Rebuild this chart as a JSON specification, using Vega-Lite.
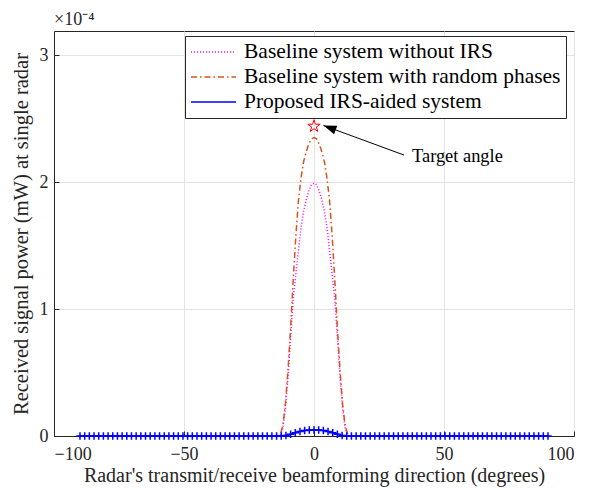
{
  "$schema": "https://vega.github.io/schema/vega-lite/v6.json",
  "width": 520,
  "height": 405,
  "autosize": {"type": "none"},
  "padding": {"left": 54, "top": 31, "right": 23, "bottom": 53},
  "background": "white",
  "config": {
    "font": "Liberation Serif",
    "view": {"stroke": "#262626", "strokeWidth": 1},
    "axis": {
      "labelFont": "Liberation Serif",
      "titleFont": "Liberation Serif",
      "labelColor": "#262626",
      "titleColor": "#262626",
      "domainColor": "#262626",
      "tickColor": "#262626",
      "gridColor": "#e3e3e3",
      "labelFontSize": 18,
      "titleFontSize": 20.5,
      "titleFontWeight": "normal",
      "tickSize": -5
    }
  },
  "title": {
    "text": "×10⁻⁴",
    "anchor": "start",
    "frame": "group",
    "fontSize": 18,
    "fontWeight": "normal",
    "font": "Liberation Serif",
    "color": "#262626",
    "offset": 2
  },
  "data": {
    "values": [
      {"series": "Baseline system without IRS", "angle": -90, "power": 0},
      {"series": "Baseline system without IRS", "angle": -14, "power": 0},
      {"series": "Baseline system without IRS", "angle": -13, "power": 0},
      {"series": "Baseline system without IRS", "angle": -12, "power": 0.000006},
      {"series": "Baseline system without IRS", "angle": -11, "power": 0.000022},
      {"series": "Baseline system without IRS", "angle": -10, "power": 0.000047},
      {"series": "Baseline system without IRS", "angle": -9, "power": 0.000078},
      {"series": "Baseline system without IRS", "angle": -8, "power": 0.000108},
      {"series": "Baseline system without IRS", "angle": -7, "power": 0.000127},
      {"series": "Baseline system without IRS", "angle": -6, "power": 0.000146},
      {"series": "Baseline system without IRS", "angle": -5, "power": 0.000164},
      {"series": "Baseline system without IRS", "angle": -4, "power": 0.000177},
      {"series": "Baseline system without IRS", "angle": -3, "power": 0.000186},
      {"series": "Baseline system without IRS", "angle": -2, "power": 0.000193},
      {"series": "Baseline system without IRS", "angle": -1, "power": 0.000198},
      {"series": "Baseline system without IRS", "angle": 0, "power": 0.000199},
      {"series": "Baseline system without IRS", "angle": 1, "power": 0.000198},
      {"series": "Baseline system without IRS", "angle": 2, "power": 0.000193},
      {"series": "Baseline system without IRS", "angle": 3, "power": 0.000186},
      {"series": "Baseline system without IRS", "angle": 4, "power": 0.000177},
      {"series": "Baseline system without IRS", "angle": 5, "power": 0.000164},
      {"series": "Baseline system without IRS", "angle": 6, "power": 0.000146},
      {"series": "Baseline system without IRS", "angle": 7, "power": 0.000127},
      {"series": "Baseline system without IRS", "angle": 8, "power": 0.000108},
      {"series": "Baseline system without IRS", "angle": 9, "power": 0.000078},
      {"series": "Baseline system without IRS", "angle": 10, "power": 0.000047},
      {"series": "Baseline system without IRS", "angle": 11, "power": 0.000022},
      {"series": "Baseline system without IRS", "angle": 12, "power": 0.000006},
      {"series": "Baseline system without IRS", "angle": 13, "power": 0},
      {"series": "Baseline system without IRS", "angle": 14, "power": 0},
      {"series": "Baseline system without IRS", "angle": 90, "power": 0},
      {"series": "Baseline system with random phases", "angle": -90, "power": 0},
      {"series": "Baseline system with random phases", "angle": -14, "power": 0},
      {"series": "Baseline system with random phases", "angle": -13, "power": 0.000001},
      {"series": "Baseline system with random phases", "angle": -12, "power": 0.000008},
      {"series": "Baseline system with random phases", "angle": -11, "power": 0.000025},
      {"series": "Baseline system with random phases", "angle": -10, "power": 0.000052},
      {"series": "Baseline system with random phases", "angle": -9, "power": 0.000085},
      {"series": "Baseline system with random phases", "angle": -8, "power": 0.000123},
      {"series": "Baseline system with random phases", "angle": -7, "power": 0.000157},
      {"series": "Baseline system with random phases", "angle": -6, "power": 0.000185},
      {"series": "Baseline system with random phases", "angle": -5, "power": 0.000203},
      {"series": "Baseline system with random phases", "angle": -4, "power": 0.000216},
      {"series": "Baseline system with random phases", "angle": -3, "power": 0.000224},
      {"series": "Baseline system with random phases", "angle": -2, "power": 0.00023},
      {"series": "Baseline system with random phases", "angle": -1, "power": 0.000234},
      {"series": "Baseline system with random phases", "angle": 0, "power": 0.000235},
      {"series": "Baseline system with random phases", "angle": 1, "power": 0.000234},
      {"series": "Baseline system with random phases", "angle": 2, "power": 0.00023},
      {"series": "Baseline system with random phases", "angle": 3, "power": 0.000224},
      {"series": "Baseline system with random phases", "angle": 4, "power": 0.000216},
      {"series": "Baseline system with random phases", "angle": 5, "power": 0.000203},
      {"series": "Baseline system with random phases", "angle": 6, "power": 0.000185},
      {"series": "Baseline system with random phases", "angle": 7, "power": 0.000157},
      {"series": "Baseline system with random phases", "angle": 8, "power": 0.000123},
      {"series": "Baseline system with random phases", "angle": 9, "power": 0.000085},
      {"series": "Baseline system with random phases", "angle": 10, "power": 0.000052},
      {"series": "Baseline system with random phases", "angle": 11, "power": 0.000025},
      {"series": "Baseline system with random phases", "angle": 12, "power": 0.000008},
      {"series": "Baseline system with random phases", "angle": 13, "power": 0.000001},
      {"series": "Baseline system with random phases", "angle": 14, "power": 0},
      {"series": "Baseline system with random phases", "angle": 90, "power": 0},
      {"series": "Proposed IRS-aided system", "angle": -90, "power": 0},
      {"series": "Proposed IRS-aided system", "angle": -88.2, "power": 0},
      {"series": "Proposed IRS-aided system", "angle": -86.4, "power": 0},
      {"series": "Proposed IRS-aided system", "angle": -84.6, "power": 0},
      {"series": "Proposed IRS-aided system", "angle": -82.8, "power": 0},
      {"series": "Proposed IRS-aided system", "angle": -81, "power": 0},
      {"series": "Proposed IRS-aided system", "angle": -79.2, "power": 0},
      {"series": "Proposed IRS-aided system", "angle": -77.4, "power": 0},
      {"series": "Proposed IRS-aided system", "angle": -75.6, "power": 0},
      {"series": "Proposed IRS-aided system", "angle": -73.8, "power": 0},
      {"series": "Proposed IRS-aided system", "angle": -72, "power": 0},
      {"series": "Proposed IRS-aided system", "angle": -70.2, "power": 0},
      {"series": "Proposed IRS-aided system", "angle": -68.4, "power": 0},
      {"series": "Proposed IRS-aided system", "angle": -66.6, "power": 0},
      {"series": "Proposed IRS-aided system", "angle": -64.8, "power": 0},
      {"series": "Proposed IRS-aided system", "angle": -63, "power": 0},
      {"series": "Proposed IRS-aided system", "angle": -61.2, "power": 0},
      {"series": "Proposed IRS-aided system", "angle": -59.4, "power": 0},
      {"series": "Proposed IRS-aided system", "angle": -57.6, "power": 0},
      {"series": "Proposed IRS-aided system", "angle": -55.8, "power": 0},
      {"series": "Proposed IRS-aided system", "angle": -54, "power": 0},
      {"series": "Proposed IRS-aided system", "angle": -52.2, "power": 0},
      {"series": "Proposed IRS-aided system", "angle": -50.4, "power": 0},
      {"series": "Proposed IRS-aided system", "angle": -48.6, "power": 0},
      {"series": "Proposed IRS-aided system", "angle": -46.8, "power": 0},
      {"series": "Proposed IRS-aided system", "angle": -45, "power": 0},
      {"series": "Proposed IRS-aided system", "angle": -43.2, "power": 0},
      {"series": "Proposed IRS-aided system", "angle": -41.4, "power": 0},
      {"series": "Proposed IRS-aided system", "angle": -39.6, "power": 0},
      {"series": "Proposed IRS-aided system", "angle": -37.8, "power": 0},
      {"series": "Proposed IRS-aided system", "angle": -36, "power": 0},
      {"series": "Proposed IRS-aided system", "angle": -34.2, "power": 0},
      {"series": "Proposed IRS-aided system", "angle": -32.4, "power": 0},
      {"series": "Proposed IRS-aided system", "angle": -30.6, "power": 0},
      {"series": "Proposed IRS-aided system", "angle": -28.8, "power": 0},
      {"series": "Proposed IRS-aided system", "angle": -27, "power": 0},
      {"series": "Proposed IRS-aided system", "angle": -25.2, "power": 0},
      {"series": "Proposed IRS-aided system", "angle": -23.4, "power": 0},
      {"series": "Proposed IRS-aided system", "angle": -21.6, "power": 0},
      {"series": "Proposed IRS-aided system", "angle": -19.8, "power": 0},
      {"series": "Proposed IRS-aided system", "angle": -18, "power": 0},
      {"series": "Proposed IRS-aided system", "angle": -16.2, "power": 0},
      {"series": "Proposed IRS-aided system", "angle": -14.4, "power": 0},
      {"series": "Proposed IRS-aided system", "angle": -12.6, "power": 0},
      {"series": "Proposed IRS-aided system", "angle": -10.8, "power": 0.0000004},
      {"series": "Proposed IRS-aided system", "angle": -9, "power": 0.0000014},
      {"series": "Proposed IRS-aided system", "angle": -7.2, "power": 0.0000026},
      {"series": "Proposed IRS-aided system", "angle": -5.4, "power": 0.0000036},
      {"series": "Proposed IRS-aided system", "angle": -3.6, "power": 0.0000043},
      {"series": "Proposed IRS-aided system", "angle": -1.8, "power": 0.0000047},
      {"series": "Proposed IRS-aided system", "angle": 0, "power": 0.0000048},
      {"series": "Proposed IRS-aided system", "angle": 1.8, "power": 0.0000047},
      {"series": "Proposed IRS-aided system", "angle": 3.6, "power": 0.0000043},
      {"series": "Proposed IRS-aided system", "angle": 5.4, "power": 0.0000036},
      {"series": "Proposed IRS-aided system", "angle": 7.2, "power": 0.0000026},
      {"series": "Proposed IRS-aided system", "angle": 9, "power": 0.0000014},
      {"series": "Proposed IRS-aided system", "angle": 10.8, "power": 0.0000004},
      {"series": "Proposed IRS-aided system", "angle": 12.6, "power": 0},
      {"series": "Proposed IRS-aided system", "angle": 14.4, "power": 0},
      {"series": "Proposed IRS-aided system", "angle": 16.2, "power": 0},
      {"series": "Proposed IRS-aided system", "angle": 18, "power": 0},
      {"series": "Proposed IRS-aided system", "angle": 19.8, "power": 0},
      {"series": "Proposed IRS-aided system", "angle": 21.6, "power": 0},
      {"series": "Proposed IRS-aided system", "angle": 23.4, "power": 0},
      {"series": "Proposed IRS-aided system", "angle": 25.2, "power": 0},
      {"series": "Proposed IRS-aided system", "angle": 27, "power": 0},
      {"series": "Proposed IRS-aided system", "angle": 28.8, "power": 0},
      {"series": "Proposed IRS-aided system", "angle": 30.6, "power": 0},
      {"series": "Proposed IRS-aided system", "angle": 32.4, "power": 0},
      {"series": "Proposed IRS-aided system", "angle": 34.2, "power": 0},
      {"series": "Proposed IRS-aided system", "angle": 36, "power": 0},
      {"series": "Proposed IRS-aided system", "angle": 37.8, "power": 0},
      {"series": "Proposed IRS-aided system", "angle": 39.6, "power": 0},
      {"series": "Proposed IRS-aided system", "angle": 41.4, "power": 0},
      {"series": "Proposed IRS-aided system", "angle": 43.2, "power": 0},
      {"series": "Proposed IRS-aided system", "angle": 45, "power": 0},
      {"series": "Proposed IRS-aided system", "angle": 46.8, "power": 0},
      {"series": "Proposed IRS-aided system", "angle": 48.6, "power": 0},
      {"series": "Proposed IRS-aided system", "angle": 50.4, "power": 0},
      {"series": "Proposed IRS-aided system", "angle": 52.2, "power": 0},
      {"series": "Proposed IRS-aided system", "angle": 54, "power": 0},
      {"series": "Proposed IRS-aided system", "angle": 55.8, "power": 0},
      {"series": "Proposed IRS-aided system", "angle": 57.6, "power": 0},
      {"series": "Proposed IRS-aided system", "angle": 59.4, "power": 0},
      {"series": "Proposed IRS-aided system", "angle": 61.2, "power": 0},
      {"series": "Proposed IRS-aided system", "angle": 63, "power": 0},
      {"series": "Proposed IRS-aided system", "angle": 64.8, "power": 0},
      {"series": "Proposed IRS-aided system", "angle": 66.6, "power": 0},
      {"series": "Proposed IRS-aided system", "angle": 68.4, "power": 0},
      {"series": "Proposed IRS-aided system", "angle": 70.2, "power": 0},
      {"series": "Proposed IRS-aided system", "angle": 72, "power": 0},
      {"series": "Proposed IRS-aided system", "angle": 73.8, "power": 0},
      {"series": "Proposed IRS-aided system", "angle": 75.6, "power": 0},
      {"series": "Proposed IRS-aided system", "angle": 77.4, "power": 0},
      {"series": "Proposed IRS-aided system", "angle": 79.2, "power": 0},
      {"series": "Proposed IRS-aided system", "angle": 81, "power": 0},
      {"series": "Proposed IRS-aided system", "angle": 82.8, "power": 0},
      {"series": "Proposed IRS-aided system", "angle": 84.6, "power": 0},
      {"series": "Proposed IRS-aided system", "angle": 86.4, "power": 0},
      {"series": "Proposed IRS-aided system", "angle": 88.2, "power": 0},
      {"series": "Proposed IRS-aided system", "angle": 90, "power": 0},
      {"series": "Target", "angle": 0, "power": 0.000244, "label": "Target angle", "angle2": 3.65, "power2": 0.0002446, "angle3": 34.6, "power3": 0.0002213, "angle4": 37.7, "power4": 0.0002155}
    ]
  },
  "encoding": {
    "x": {
      "field": "angle", "type": "quantitative",
      "scale": {"domain": [-100, 100], "nice": false},
      "axis": {"values": [-100, -50, 0, 50, 100], "title": "Radar's transmit/receive beamforming direction (degrees)", "grid": true, "labelPadding": 14, "titlePadding": 2, "titleFontSize": 20}
    },
    "y": {
      "field": "power", "type": "quantitative",
      "scale": {"domain": [0, 0.000319], "nice": false},
      "axis": {"values": [0, 0.0001, 0.0002, 0.0003], "labelExpr": "format(datum.value*10000, 'd')", "title": "Received signal power (mW) at single radar", "grid": true, "labelPadding": 11, "titlePadding": 8}
    }
  },
  "layer": [
    {
      "transform": [{"filter": "datum.series !== 'Target'"}],
      "mark": {"type": "line", "strokeWidth": 1.5},
      "encoding": {
        "color": {
          "field": "series", "type": "nominal",
          "scale": {"domain": ["Baseline system without IRS", "Baseline system with random phases", "Proposed IRS-aided system"], "range": ["#ff00ff", "#d95319", "#0000ff"]},
          "legend": {"orient": "none", "legendX": 131, "legendY": 5, "title": null, "labelFont": "Liberation Serif", "labelFontSize": 21.5, "labelColor": "#000000", "symbolType": "stroke", "symbolSize": 2025, "symbolStrokeWidth": 1.5, "clipHeight": 22, "rowPadding": 3, "padding": 5, "strokeColor": "#262626", "fillColor": "white", "labelOffset": 7, "labelLimit": 500}
        },
        "strokeDash": {
          "field": "series", "type": "nominal",
          "scale": {"domain": ["Baseline system without IRS", "Baseline system with random phases", "Proposed IRS-aided system"], "range": [[1, 2], [6, 3, 1.5, 3], [1, 0]]},
          "legend": {"orient": "none", "legendX": 131, "legendY": 5, "title": null, "labelFont": "Liberation Serif", "labelFontSize": 21.5, "labelColor": "#000000", "symbolType": "stroke", "symbolSize": 2025, "symbolStrokeWidth": 1.5, "clipHeight": 22, "rowPadding": 3, "padding": 5, "strokeColor": "#262626", "fillColor": "white", "labelOffset": 7, "labelLimit": 500}
        }
      }
    },
    {
      "transform": [{"filter": "datum.series === 'Proposed IRS-aided system'"}],
      "mark": {"type": "point", "shape": "M-1,0L1,0M0,-1L0,1", "size": 56, "filled": false, "stroke": "#0000ff", "strokeWidth": 1.5, "opacity": 1}
    },
    {
      "transform": [{"filter": "datum.series === 'Target'"}],
      "mark": {"type": "point", "shape": "M0,-1L0.2245,-0.309L0.951,-0.309L0.3633,0.118L0.588,0.809L0,0.382L-0.588,0.809L-0.3633,0.118L-0.951,-0.309L-0.2245,-0.309Z", "size": 169, "filled": false, "stroke": "#ff0000", "strokeWidth": 1, "opacity": 1}
    },
    {
      "transform": [{"filter": "datum.series === 'Target'"}],
      "mark": {"type": "rule", "color": "#000000", "strokeWidth": 1},
      "encoding": {
        "x": {"field": "angle3", "type": "quantitative"},
        "y": {"field": "power3", "type": "quantitative"},
        "x2": {"field": "angle2"},
        "y2": {"field": "power2"}
      }
    },
    {
      "transform": [{"filter": "datum.series === 'Target'"}],
      "mark": {"type": "point", "shape": "M0,0L2,-0.7L2,0.7Z", "size": 169, "filled": true, "color": "#000000", "opacity": 1, "angle": 20},
      "encoding": {
        "x": {"field": "angle2", "type": "quantitative"},
        "y": {"field": "power2", "type": "quantitative"}
      }
    },
    {
      "transform": [{"filter": "datum.series === 'Target'"}],
      "mark": {"type": "text", "align": "left", "baseline": "alphabetic", "fontSize": 18.4, "color": "#000000"},
      "encoding": {
        "x": {"field": "angle4", "type": "quantitative"},
        "y": {"field": "power4", "type": "quantitative"},
        "text": {"field": "label"}
      }
    }
  ]
}
